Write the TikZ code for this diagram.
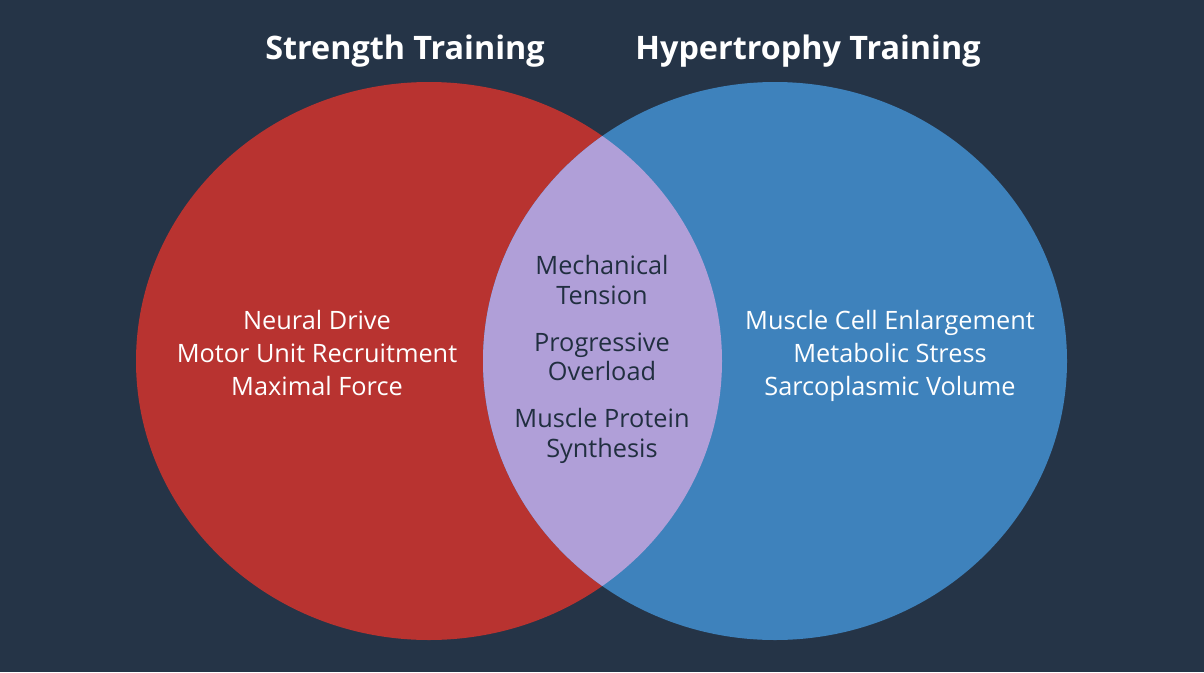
\documentclass[tikz,border=0pt]{standalone}
\usepackage{fontspec}
\setmainfont{Open Sans}
\usetikzlibrary{positioning}
\definecolor{bgnavy}{HTML}{253447}
\definecolor{setred}{HTML}{B83330}
\definecolor{setblue}{HTML}{3E82BC}
\definecolor{setlap}{HTML}{B09FD8}
\tikzset{
  title/.style={text=white,font=\bfseries\fontsize{23}{28}\selectfont},
  body/.style={text=white,align=center,font=\fontsize{18}{23.5}\selectfont},
  lapbody/.style={text=bgnavy!90!black,align=center,font=\fontsize{18}{21}\selectfont}
}
\begin{document}
\begin{tikzpicture}[x=0.025cm,y=-0.025cm]
\fill[bgnavy] (0,0) rectangle (1204,672);
\fill[setred] (429,361) ellipse (293 and 279);
\fill[setblue] (775,361) ellipse (292 and 279);
\begin{scope}
  \clip (429,361) ellipse (293 and 279);
  \fill[setlap] (775,361) ellipse (292 and 279);
\end{scope}
% titles
\node[title] (strength) at (405,51) {Strength Training};
\node[title] (hyper) at (808,51) {Hypertrophy Training};
% left set
\node[body] (left) at (317,353) {Neural Drive\\Motor Unit Recruitment\\Maximal Force};
% right set
\node[body] (right) at (890,356) {Muscle Cell Enlargement\\Metabolic Stress\\Sarcoplasmic Volume};
% overlap
\node[lapbody] (tension) at (602,280) {Mechanical\\Tension};
\node[lapbody] (overload) at (602,357) {Progressive\\Overload};
\node[lapbody] (protein) at (602,436) {Muscle Protein\\Synthesis};
\end{tikzpicture}
\end{document}
